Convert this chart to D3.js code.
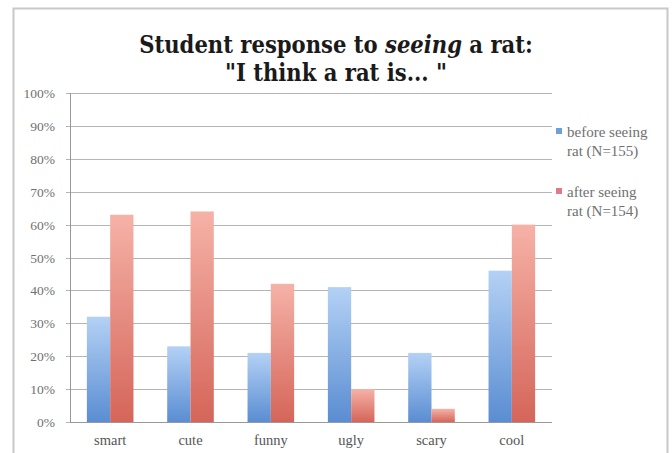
<!DOCTYPE html>
<html>
<head>
<meta charset="utf-8">
<script src="https://cdn.jsdelivr.net/npm/d3@7"></script>
<style>
  body { margin: 0; background: #fff; }
  svg { display: block; font-family: "Liberation Serif", "DejaVu Serif", serif; }
</style>
</head>
<body>
<div id="chart"></div>
<script>
// data
var categories = ["smart", "cute", "funny", "ugly", "scary", "cool"];
var before = [32, 23, 21, 41, 21, 46];
var after = [63, 64, 42, 10, 4, 60];
var seriesNames = ["before seeing rat (N=155)", "after seeing rat (N=154)"];
var yTicks = [0, 10, 20, 30, 40, 50, 60, 70, 80, 90, 100];

var W = 672, H = 453;
var svg = d3.select("#chart").append("svg")
    .attr("width", W)
    .attr("height", H);

// gradients for the bars
var defs = svg.append("defs");
function grad(id, top, bottom) {
    var g = defs.append("linearGradient").attr("id", id)
        .attr("x1", 0).attr("y1", 0).attr("x2", 0).attr("y2", 1);
    g.append("stop").attr("offset", "0%").attr("stop-color", top);
    g.append("stop").attr("offset", "100%").attr("stop-color", bottom);
}
grad("gBlue", "#b4d1f5", "#5a8dd2");
grad("gRed", "#f6b2a7", "#d5655a");

// outer frame
svg.append("path")
    .attr("d", "M13.5,453 L13.5,8.5 L667.5,8.5 L667.5,453")
    .attr("fill", "none")
    .attr("stroke", "#c8c8c8")
    .attr("stroke-width", 2);

// title
var title = svg.append("text")
    .attr("x", 336)
    .attr("text-anchor", "middle")
    .style("font-family", "'DejaVu Serif', serif")
    .style("font-stretch", "condensed")
    .style("font-size", "23.5px")
    .style("font-weight", "bold")
    .attr("fill", "#1a1a1a");
var t1 = title.append("tspan").attr("x", 336).attr("y", 53);
t1.append("tspan").text("Student response to ");
t1.append("tspan").style("font-style", "italic").text("seeing");
t1.append("tspan").text(" a rat:");
title.append("tspan").attr("x", 336).attr("y", 81).text("\"I think a rat is... \"");

// scales
var x = d3.scaleBand()
    .domain(categories)
    .range([70, 552])
    .paddingInner(0.42)
    .paddingOuter(0.21);

var xSub = d3.scaleBand()
    .domain([0, 1])
    .range([0, x.bandwidth()]);

var y = d3.scaleLinear()
    .domain([0, 100])
    .range([422, 93]);

// gridlines
svg.append("g")
    .selectAll("line")
    .data(yTicks)
    .join("line")
    .attr("x1", 66)
    .attr("x2", 552)
    .attr("y1", function(d) { return Math.round(y(d)) + 0.5; })
    .attr("y2", function(d) { return Math.round(y(d)) + 0.5; })
    .attr("stroke", "#b5b5b5")
    .attr("stroke-width", 1.2);

// y axis line
svg.append("line")
    .attr("x1", 70.5).attr("x2", 70.5)
    .attr("y1", y(100)).attr("y2", y(0))
    .attr("stroke", "#999");

// y labels
svg.append("g")
    .selectAll("text")
    .data(yTicks)
    .join("text")
    .attr("x", 55)
    .attr("y", function(d) { return y(d) + 5; })
    .attr("text-anchor", "end")
    .style("font-size", "13.5px")
    .attr("fill", "#707070")
    .text(function(d) { return d + "%"; });

// bars
var rows = categories.map(function(c, i) {
    return { cat: c, vals: [before[i], after[i]] };
});

var groups = svg.append("g")
    .selectAll("g")
    .data(rows)
    .join("g")
    .attr("transform", function(d) { return "translate(" + x(d.cat) + ",0)"; });

groups.selectAll("rect")
    .data(function(d) { return d.vals.map(function(v, k) { return { k: k, v: v }; }); })
    .join("rect")
    .attr("x", function(d) { return xSub(d.k); })
    .attr("width", xSub.bandwidth())
    .attr("y", function(d) { return y(d.v); })
    .attr("height", function(d) { return y(0) - y(d.v); })
    .attr("fill", function(d) { return d.k === 0 ? "url(#gBlue)" : "url(#gRed)"; });

// x axis baseline
svg.append("line")
    .attr("x1", 70).attr("x2", 552)
    .attr("y1", y(0) + 0.5).attr("y2", y(0) + 0.5)
    .attr("stroke", "#999");

// x labels
svg.append("g")
    .selectAll("text")
    .data(categories)
    .join("text")
    .attr("x", function(d) { return x(d) + x.bandwidth() / 2; })
    .attr("y", 445)
    .attr("text-anchor", "middle")
    .style("font-size", "14.5px")
    .attr("fill", "#555")
    .text(function(d) { return d; });

// legend
var legendColors = ["#6f9fdc", "#e07a8a"];
var legend = svg.append("g")
    .selectAll("g")
    .data(seriesNames)
    .join("g")
    .attr("transform", function(d, i) { return "translate(556," + (128 + i * 60) + ")"; });

legend.append("rect")
    .attr("width", 6)
    .attr("height", 6)
    .attr("fill", function(d, i) { return legendColors[i]; });

legend.append("text")
    .attr("x", 11)
    .attr("y", 9)
    .style("font-size", "15px")
    .attr("fill", "#707070")
    .each(function(d) {
        var words = d.split(" ");
        var t = d3.select(this);
        t.append("tspan").attr("x", 11).text(words.slice(0, 2).join(" "));
        t.append("tspan").attr("x", 11).attr("dy", 19).text(words.slice(2).join(" "));
    });
</script>
</body>
</html>
